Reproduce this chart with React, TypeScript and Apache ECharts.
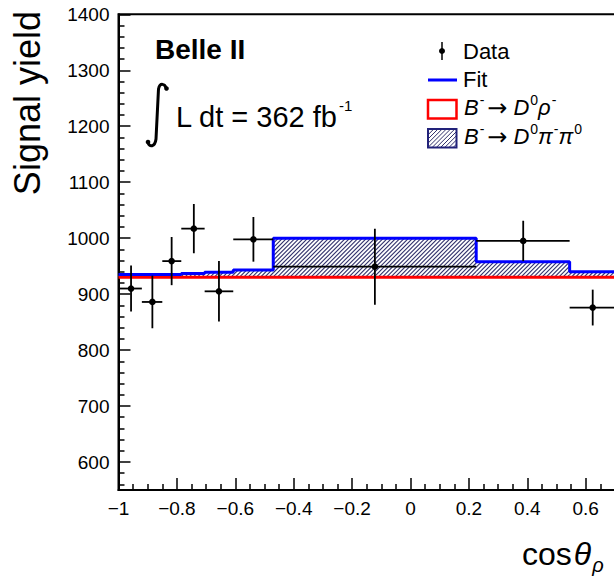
import React, { useEffect, useRef } from 'react';
import * as echarts from 'echarts';

// ---- data ----
const binEdges = [-1, -0.92, -0.85, -0.785, -0.705, -0.607, -0.47, 0.225, 0.545, 0.71];
const fitYield = [935, 935, 935, 937, 939, 943, 1000, 958, 940];
const rhoYield = [930, 930, 930, 930, 930, 930, 930, 930, 930];
const dataX = [-0.957, -0.884, -0.818, -0.742, -0.656, -0.538, -0.122, 0.386, 0.624];
const dataY = [910, 886, 959, 1017, 905, 998, 949, 995, 876];
const dataYErr = [41, 47, 43, 44, 54, 40, 68, 36, 32];
const xTickLabels = ['\u22121', '\u22120.8', '\u22120.6', '\u22120.4', '\u22120.2', '0', '0.2', '0.4', '0.6'];
const yTickLabels = [600, 700, 800, 900, 1000, 1100, 1200, 1300, 1400];

const FAMILY = "'Liberation Sans', Arial, Helvetica, sans-serif";

let measureCtx: CanvasRenderingContext2D | null = null;
function measure(text: string, font: string) {
  if (!measureCtx) measureCtx = document.createElement('canvas').getContext('2d');
  measureCtx!.font = font;
  return measureCtx!.measureText(text).width;
}

type Seg = { t: string; size?: number; italic?: boolean; bold?: boolean; dy?: number; gap?: number; family?: string };
function layout(segs: Seg[], x0: number, y: number, baseSize: number) {
  const els: any[] = [];
  let x = x0;
  for (const s of segs) {
    x += s.gap || 0;
    const size = s.size || baseSize;
    const font = `${s.italic ? 'italic ' : ''}${s.bold ? 'bold ' : ''}${size}px ${s.family || FAMILY}`;
    els.push({
      type: 'text', x, y: y + (s.dy || 0), silent: true, z: 100,
      style: { text: s.t, font, fill: '#000', align: 'left', verticalAlign: 'middle', textAlign: 'left', textVerticalAlign: 'middle' },
    });
    x += measure(s.t, font);
  }
  return els;
}

function hatchLines(x0: number, y0: number, x1: number, y1: number, s: number) {
  const out: any[] = [];
  for (let c = Math.ceil((x0 + y0) / s) * s; c <= x1 + y1; c += s) {
    const xa = Math.max(x0, c - y1);
    const xb = Math.min(x1, c - y0);
    if (xb > xa) out.push({ x1: xa, y1: c - xa, x2: xb, y2: c - xb });
  }
  return out;
}

function stepPoints(vals: number[]) {
  const pts: number[][] = [];
  vals.forEach((v, i) => {
    pts.push([binEdges[i], v]);
    pts.push([binEdges[i + 1], v]);
  });
  return pts;
}

const INTEGRAL_D = 'M20 5 C19 1 14 -1 12.5 6 L10 56 C9 64 3 65 2 59';
let registered = false;

const HATCH_COLOR = '#30306a';
const ARROW_FAMILY = "'DejaVu Sans', sans-serif";

export default function App() {
  const ref = useRef<HTMLDivElement>(null);
  useEffect(() => {
    if (!registered) {
      echarts.graphic.registerShape('integral', echarts.graphic.extendPath(INTEGRAL_D, {}) as any);
      registered = true;
    }
    const chart = echarts.init(ref.current!, null, { renderer: 'svg' });

    const minorY: number[] = [];
    for (let v = 560; v <= 1400; v += 20) if (v % 100 !== 0) minorY.push(v);

    const hatchData = binEdges.slice(0, -1).map((lo, i) => [lo, binEdges[i + 1], rhoYield[i], fitYield[i]]);
    const pointData = dataX.map((x, i) => [x, dataY[i], binEdges[i], binEdges[i + 1], dataYErr[i]]);

    const lineStyleBlack = { color: '#000', width: 1.5 };

    const graphic: any[] = [];
    // y title
    graphic.push({
      type: 'text', x: 27, y: 11, rotation: Math.PI / 2, silent: true,
      style: { text: 'Signal yield', font: `36px ${FAMILY}`, fill: '#000', align: 'right', verticalAlign: 'middle', textAlign: 'right', textVerticalAlign: 'middle' },
    });
    // x title
    graphic.push(...layout([
      { t: 'cos', size: 32 },
      { t: '\u03b8', size: 32, italic: true, gap: 2 },
      { t: '\u03c1', size: 20, italic: true, dy: 11, gap: 1 },
    ], 522, 554, 32));
    // Belle II
    graphic.push(...layout([{ t: 'Belle II', bold: true }], 155, 49.5, 28));
    // integral
    graphic.push({
      type: 'integral', x: 146, y: 83, silent: true, shape: {},
      style: { stroke: '#000', lineWidth: 3, fill: 'none' },
    });
    graphic.push({ type: 'circle', silent: true, shape: { cx: 166.5, cy: 88.5, r: 2.3 }, style: { fill: '#000' } });
    graphic.push({ type: 'circle', silent: true, shape: { cx: 148, cy: 142, r: 2.3 }, style: { fill: '#000' } });
    graphic.push(...layout([
      { t: 'L dt = 362 fb' },
      { t: '-1', size: 15, dy: -12, gap: 1 },
    ], 176, 117, 29));

    // legend
    graphic.push({ type: 'line', silent: true, shape: { x1: 442, y1: 42, x2: 442, y2: 60 }, style: { stroke: '#000', lineWidth: 1.5 } });
    graphic.push({ type: 'circle', silent: true, shape: { cx: 442, cy: 51, r: 3 }, style: { fill: '#000' } });
    graphic.push(...layout([{ t: 'Data' }], 463, 51, 22));
    graphic.push({ type: 'line', silent: true, shape: { x1: 428, y1: 80, x2: 457, y2: 80 }, style: { stroke: '#0000ff', lineWidth: 3 } });
    graphic.push(...layout([{ t: 'Fit' }], 463, 79, 22));
    graphic.push({ type: 'rect', silent: true, shape: { x: 428, y: 100, width: 28.5, height: 18.5 }, style: { stroke: '#ff0000', lineWidth: 2.5, fill: '#fff' } });
    graphic.push(...layout([
      { t: 'B', italic: true },
      { t: '-', size: 14, dy: -7, gap: 1 },
      { t: '\u2192', gap: 3, size: 24, family: ARROW_FAMILY, dy: 1 },
      { t: 'D', italic: true, gap: 6 },
      { t: '0', size: 14, dy: -7, gap: 1 },
      { t: '\u03c1', italic: true, gap: 0 },
      { t: '-', size: 14, dy: -7, gap: 1 },
    ], 464, 107, 22));
    hatchLines(428, 129, 456.5, 147.5, 4.2).forEach((l) => {
      graphic.push({ type: 'line', silent: true, shape: l, style: { stroke: HATCH_COLOR, lineWidth: 1 } });
    });
    graphic.push({ type: 'rect', silent: true, shape: { x: 428, y: 129, width: 28.5, height: 18.5 }, style: { stroke: '#22227a', lineWidth: 2, fill: 'none' } });
    graphic.push(...layout([
      { t: 'B', italic: true },
      { t: '-', size: 14, dy: -7, gap: 1 },
      { t: '\u2192', gap: 3, size: 24, family: ARROW_FAMILY, dy: 1 },
      { t: 'D', italic: true, gap: 6 },
      { t: '0', size: 14, dy: -7, gap: 1 },
      { t: '\u03c0', italic: true, gap: 0 },
      { t: '-', size: 14, dy: -7, gap: 1 },
      { t: '\u03c0', italic: true, gap: 0 },
      { t: '0', size: 14, dy: -7, gap: 1 },
    ], 464, 136, 22));

    const option: any = {
      animation: false,
      backgroundColor: '#fff',
      grid: {
        left: 118.5, top: 14.3, width: 584, height: 475.7,
        show: true, borderColor: '#000', borderWidth: 2, backgroundColor: 'transparent',
        containLabel: false, outerBoundsMode: 'none',
      },
      xAxis: {
        type: 'value', min: -1, max: 1, interval: 0.2,
        axisLine: { onZero: false, lineStyle: { color: '#000', width: 2 } },
        axisTick: { inside: true, length: 12, lineStyle: lineStyleBlack },
        minorTick: { show: true, splitNumber: 4, length: 6, lineStyle: lineStyleBlack },
        splitLine: { show: false },
        minorSplitLine: { show: false },
        axisLabel: {
          formatter: (v: number) => xTickLabels[Math.round((v + 1) / 0.2)] ?? '',
          fontSize: 19, fontFamily: FAMILY, color: '#000', margin: 9,
        },
      },
      yAxis: [
        {
          type: 'value', min: 550, max: 1400,
          axisLine: { onZero: false, lineStyle: { color: '#000', width: 2 } },
          axisTick: { inside: true, length: 12, lineStyle: lineStyleBlack, customValues: yTickLabels },
          axisLabel: {
            customValues: yTickLabels, formatter: (v: number) => String(Math.round(v)),
            fontSize: 19, fontFamily: FAMILY, color: '#000', margin: 9,
          },
          splitLine: { show: false },
        },
        {
          type: 'value', min: 550, max: 1400, position: 'left',
          axisLine: { show: false, onZero: false },
          axisTick: { inside: true, length: 6, lineStyle: lineStyleBlack, customValues: minorY },
          axisLabel: { show: false },
          splitLine: { show: false },
        },
      ],
      series: [
        {
          type: 'custom', name: 'B- -> D0 pi- pi0', data: hatchData, clip: true, z: 2,
          encode: { x: [0, 1], y: [2, 3] },
          renderItem: (params: any, api: any) => {
            const p0 = api.coord([api.value(0), api.value(3)]);
            const p1 = api.coord([api.value(1), api.value(2)]);
            const lines = hatchLines(p0[0], p0[1], p1[0], p1[1], 4.2);
            return {
              type: 'group',
              children: lines.map((l) => ({ type: 'line', shape: l, style: { stroke: HATCH_COLOR, lineWidth: 1.1 } })),
            };
          },
        },
        {
          type: 'line', name: 'B- -> D0 rho-', data: stepPoints(rhoYield), symbol: 'none', z: 3,
          lineStyle: { color: '#ff0000', width: 3 },
        },
        {
          type: 'line', name: 'Fit', data: stepPoints(fitYield), symbol: 'none', z: 4,
          lineStyle: { color: '#0000ff', width: 3 },
        },
        {
          type: 'custom', name: 'Data', data: pointData, clip: true, z: 5,
          encode: { x: [0, 2, 3], y: [1] },
          renderItem: (params: any, api: any) => {
            const x = api.value(0), y = api.value(1), e = api.value(4);
            const c = api.coord([x, y]);
            const l = api.coord([api.value(2), y]);
            const r = api.coord([api.value(3), y]);
            const t = api.coord([x, y + e]);
            const b = api.coord([x, y - e]);
            return {
              type: 'group',
              children: [
                { type: 'line', shape: { x1: l[0], y1: c[1], x2: r[0], y2: c[1] }, style: { stroke: '#000', lineWidth: 1.8 } },
                { type: 'line', shape: { x1: c[0], y1: t[1], x2: c[0], y2: b[1] }, style: { stroke: '#000', lineWidth: 1.8 } },
                { type: 'circle', shape: { cx: c[0], cy: c[1], r: 3.3 }, style: { fill: '#000' } },
              ],
            };
          },
        },
      ],
      graphic,
    };
    chart.setOption(option);
    return () => chart.dispose();
  }, []);
  return <div ref={ref} style={{ position: 'fixed', left: 0, top: 0, width: 614, height: 577 }} />;
}
